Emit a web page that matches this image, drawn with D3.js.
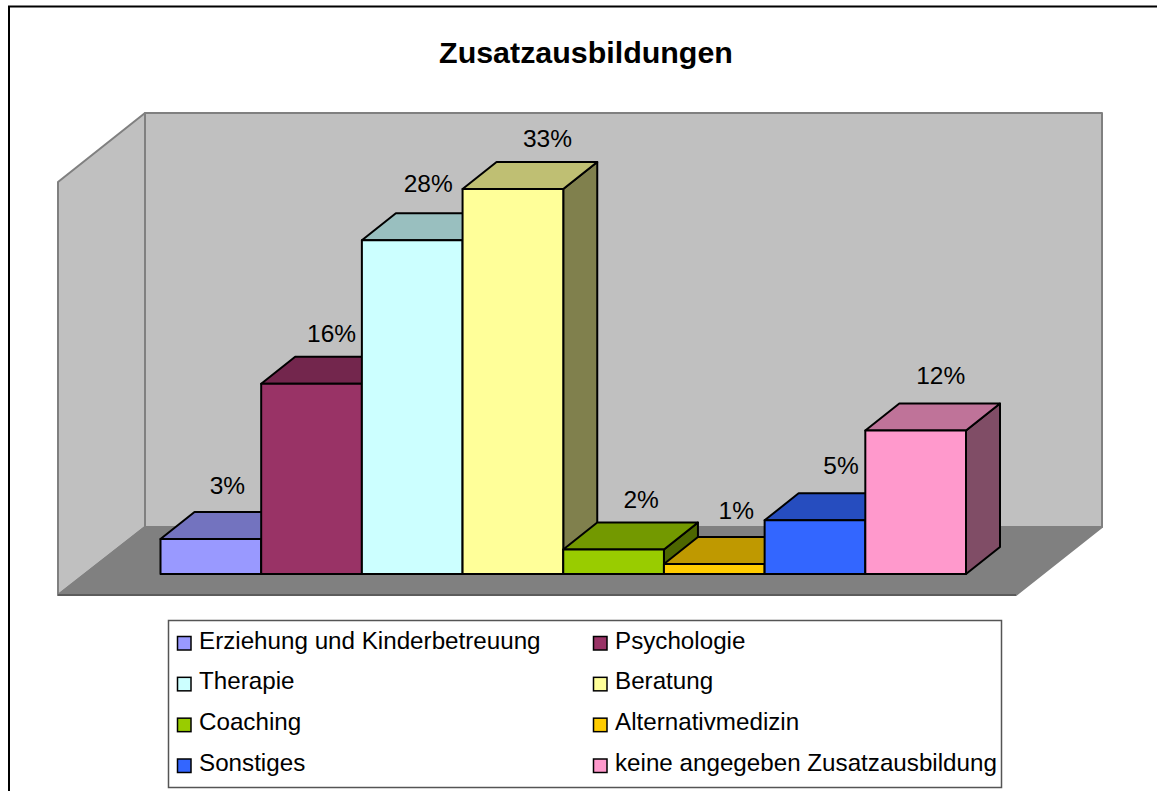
<!DOCTYPE html>
<html>
<head>
<meta charset="utf-8">
<script src="https://cdn.jsdelivr.net/npm/d3@7"></script>
<style>
    html, body { margin: 0; padding: 0; background: #fff; overflow: hidden; }
    text { font-family: "Liberation Sans", Arial, sans-serif; fill: #000; }
</style>
</head>
<body>
<script>
const categories = ['Erziehung und Kinderbetreuung', 'Psychologie', 'Therapie', 'Beratung',
    'Coaching', 'Alternativmedizin', 'Sonstiges', 'keine angegeben Zusatzausbildung'];
// bar heights, the printed labels are rounded
const values = [3.0, 16.3, 28.6, 33.0, 2.1, 0.85, 4.6, 12.3];
const labels = ['3%', '16%', '28%', '33%', '2%', '1%', '5%', '12%'];
const colors = ['#9999ff', '#993366', '#ccffff', '#ffff99', '#99cc00', '#ffcc00', '#3366ff', '#ff99cc'];

const width = 1157;
const height = 791;
const svg = d3.select('body')
    .append('svg')
    .attr('width', width)
    .attr('height', height)
    .style('display', 'block');

//outer frame, right and bottom run off the picture
svg.append('rect')
    .attr('x', 9)
    .attr('y', 6.5)
    .attr('width', 1200)
    .attr('height', 900)
    .attr('fill', '#fff')
    .attr('stroke', '#000')
    .attr('stroke-width', 2);

svg.append('text')
    .text('Zusatzausbildungen')
    .attr('x', 586)
    .attr('y', 63)
    .attr('text-anchor', 'middle')
    .attr('font-size', 30.4)
    .attr('font-weight', 'bold');

//scales
const x = d3.scaleBand().domain(categories).range([160.5, 966]);
const y = d3.scaleLinear().domain([0, 33]).range([574, 189]);
const depthX = 34;
const depthY = 27;

const poly = pts => pts.map(p => p.join(',')).join(' ');

//the shaded faces are the bar colour times a factor
const shade = (c, k) => {
    const rgb = d3.rgb(c);
    return d3.rgb(rgb.r * k, rgb.g * k, rgb.b * k).formatHex();
};

//walls and floor
const wall = [
    {pts: [[58, 182], [145, 113], [145, 527], [58, 595]], fill: '#c0c0c0'},
    {pts: [[145, 113], [1102, 113], [1102, 527], [145, 527]], fill: '#c0c0c0'},
    {pts: [[58, 595], [145, 527], [1102, 527], [1016, 595]], fill: '#808080'}
];
svg.selectAll('polygon.wall')
    .data(wall)
    .enter()
    .append('polygon')
    .attr('class', 'wall')
    .attr('points', d => poly(d.pts))
    .attr('fill', d => d.fill)
    .attr('stroke', '#808080')
    .attr('stroke-width', 2)
    .attr('stroke-linejoin', 'round');

//bottom edge of the floor is darker
svg.append('line')
    .attr('x1', 58).attr('y1', 595)
    .attr('x2', 1016).attr('y2', 595)
    .attr('stroke', '#505050')
    .attr('stroke-width', 1.5);

//labels were placed by hand in the original, so each has its own nudge from the bar centre and top
const labelDx = [16.5, 20, 16, 34.5, 27.5, 22, 26, 25];
const labelDy = [45, 41.5, 48, 42, 42, 45, 46, 47];

//labels go under the bars
svg.selectAll('text.value')
    .data(categories)
    .enter()
    .append('text')
    .attr('class', 'value')
    .text((d, i) => labels[i])
    .attr('x', (d, i) => x(d) + x.bandwidth() / 2 + labelDx[i])
    .attr('y', (d, i) => y(values[i]) - labelDy[i])
    .attr('text-anchor', 'middle')
    .attr('font-size', 24.5);

//one group per bar, left to right so that the next bar hides the side of the last
const bars = svg.selectAll('g.bar')
    .data(categories)
    .enter()
    .append('g')
    .attr('class', 'bar')
    .attr('stroke', '#000')
    .attr('stroke-width', 2)
    .attr('stroke-linejoin', 'round');

//side
bars.append('polygon')
    .attr('points', (d, i) => {
        const r = x(d) + x.bandwidth();
        return poly([[r, y(values[i])], [r + depthX, y(values[i]) - depthY], [r + depthX, y(0) - depthY], [r, y(0)]]);
    })
    .attr('fill', (d, i) => shade(colors[i], 0.5));

//top
bars.append('polygon')
    .attr('points', (d, i) => {
        const l = x(d);
        const r = l + x.bandwidth();
        const t = y(values[i]);
        return poly([[l, t], [l + depthX, t - depthY], [r + depthX, t - depthY], [r, t]]);
    })
    .attr('fill', (d, i) => shade(colors[i], 0.75));

//front
bars.append('rect')
    .attr('x', d => x(d))
    .attr('y', (d, i) => y(values[i]))
    .attr('width', x.bandwidth())
    .attr('height', (d, i) => y(0) - y(values[i]))
    .attr('fill', (d, i) => colors[i]);

//legend
svg.append('rect')
    .attr('x', 168.5)
    .attr('y', 620.5)
    .attr('width', 833)
    .attr('height', 167)
    .attr('fill', '#fff')
    .attr('stroke', '#555')
    .attr('stroke-width', 1.5);

const legendCol = d3.scalePoint().domain([0, 1]).range([177.5, 593.5]);
const legendRow = d3.scalePoint().domain([0, 1, 2, 3]).range([643, 765.5]);

const legend = svg.selectAll('g.legend')
    .data(categories)
    .enter()
    .append('g')
    .attr('class', 'legend')
    .attr('transform', (d, i) => `translate(${legendCol(i % 2)},${legendRow(Math.floor(i / 2))})`);

legend.append('rect')
    .attr('x', 0)
    .attr('y', -6.5)
    .attr('width', 13.5)
    .attr('height', 13.5)
    .attr('fill', (d, i) => colors[i])
    .attr('stroke', '#000')
    .attr('stroke-width', 1.5);

legend.append('text')
    .text(d => d)
    .attr('x', 21.5)
    .attr('y', 5.5)
    .attr('font-size', 24.2);
</script>
</body>
</html>
